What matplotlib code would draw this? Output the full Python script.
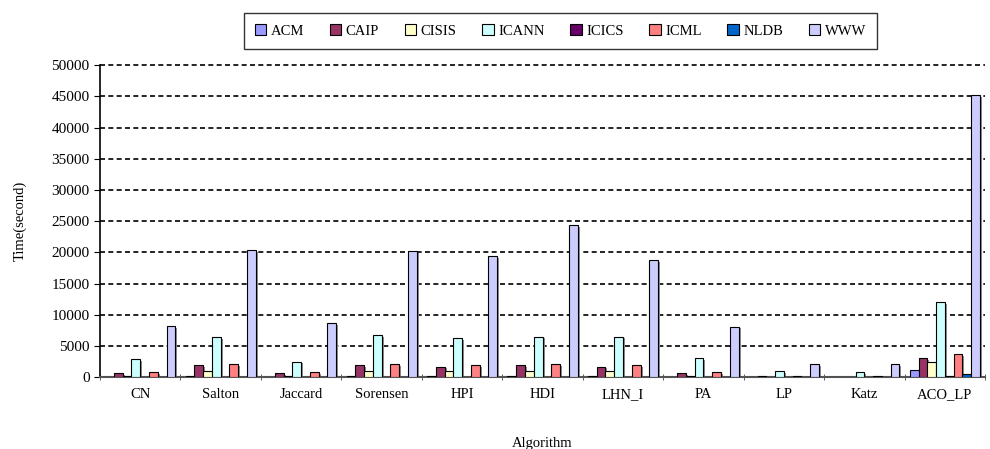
import numpy as np
import matplotlib
matplotlib.use("Agg")
import matplotlib.pyplot as plt

plt.rcParams["font.family"] = ["Liberation Serif", "DejaVu Serif"]

# Data
algorithms = ["CN", "Salton", "Jaccard", "Sorensen", "HPI", "HDI", "LHN_I", "PA", "LP", "Katz", "ACO_LP"]
datasets = ["ACM", "CAIP", "CISIS", "ICANN", "ICICS", "ICML", "NLDB", "WWW"]
colors = ["#9999FF", "#993366", "#FFFFCC", "#CCFFFF", "#660066", "#FF8080", "#0066CC", "#CCCCFF"]

acm   = [100, 200, 100, 200, 150, 200, 150, 100, 50, 30, 1200]
caip  = [650, 1900, 600, 1900, 1700, 1900, 1700, 600, 150, 80, 3000]
cisis = [250, 1000, 250, 1000, 1000, 1000, 1000, 250, 60, 30, 2500]
icann = [2900, 6400, 2500, 6700, 6200, 6500, 6500, 3000, 950, 800, 12000]
icics = [50, 50, 50, 50, 50, 50, 50, 50, 30, 20, 150]
icml  = [800, 2050, 800, 2050, 1900, 2050, 1900, 800, 150, 150, 3650]
nldb  = [30, 50, 30, 50, 50, 50, 50, 30, 20, 20, 450]
www   = [8200, 20300, 8650, 20150, 19400, 24350, 18750, 8050, 2050, 2050, 45200]
series = [acm, caip, cisis, icann, icics, icml, nldb, www]

fig = plt.figure(figsize=(9.9, 4.49), dpi=100)
ax = fig.add_axes([0.101, 0.160, 0.894, 0.695])

x = np.arange(len(algorithms))
w = 0.109
handles = []
for i, (name, vals, c) in enumerate(zip(datasets, series, colors)):
    pos = x + (i - 3.5) * w
    vals = np.array(vals)
    # drop shadow
    ax.bar(pos + 0.025, np.maximum(vals - 250, 0), w, color="#8c8c8c", edgecolor="none", zorder=2)
    b = ax.bar(pos, vals, w, color=c, edgecolor="black", linewidth=0.8, label=name, zorder=3)
    handles.append(b)

ax.set_xlim(-0.5, len(algorithms) - 0.5)
ax.set_ylim(0, 50000)
ax.set_yticks(np.arange(0, 50001, 5000))
ax.set_xticks(x)
ax.set_xticklabels(algorithms, fontsize=10.5)
ax.set_xticks(np.arange(-0.5, len(algorithms), 1), minor=True)
ax.tick_params(axis="x", which="major", length=0, pad=8)
ax.tick_params(axis="x", which="minor", length=5, direction="inout", color="#444444")
ax.tick_params(axis="y", labelsize=11, length=4, direction="out")
ax.yaxis.grid(True, linestyle=(0, (3, 2)), color="black", linewidth=1.2, zorder=0)
for gl in ax.get_ygridlines():
    gl.set_clip_on(False)
ax.set_axisbelow(True)

for s in ["top", "right"]:
    ax.spines[s].set_visible(False)
ax.spines["left"].set_linewidth(1.2)
ax.spines["bottom"].set_color("#555555")
ax.spines["bottom"].set_linewidth(1.5)

ax.set_ylabel("Time(second)", fontsize=10.5, labelpad=18)
ax.set_xlabel("Algorithm", fontsize=10.5, labelpad=26)

leg = fig.legend(handles=handles, labels=datasets, loc="upper center", ncol=8,
                 bbox_to_anchor=(0.566, 0.971), fontsize=10.5, frameon=True,
                 fancybox=False, edgecolor="black", handlelength=0.8, handleheight=0.8,
                 columnspacing=1.75, handletextpad=0.3, borderpad=0.75, borderaxespad=0)
leg.get_frame().set_linewidth(1.0)

fig.savefig("out.png", dpi=100)
